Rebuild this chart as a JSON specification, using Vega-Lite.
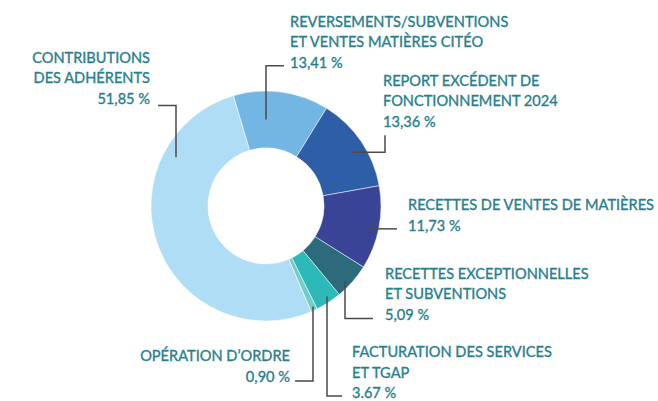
{
  "$schema": "https://vega.github.io/schema/vega-lite/v6.json",
  "width": 658,
  "height": 401,
  "padding": 0,
  "autosize": {"type": "fit", "contains": "padding"},
  "background": "white",
  "config": {"view": {"stroke": null}},
  "datasets": {
    "parts": [
      {"category": "Reversements", "value": 13.41, "order": 1, "label": ["REVERSEMENTS/SUBVENTIONS", "ET VENTES MATIÈRES CITÉO", "13,41 %"], "lx": 24, "ly": 180},
      {"category": "Report", "value": 13.36, "order": 2, "label": ["REPORT EXCÉDENT DE", "FONCTIONNEMENT 2024", "13,36 %"], "lx": 117, "ly": 121},
      {"category": "Ventes", "value": 11.73, "order": 3, "label": ["RECETTES DE VENTES DE MATIÈRES", "11,73 %"], "lx": 142, "ly": -4.5},
      {"category": "Exceptionnelles", "value": 5.09, "order": 4, "label": ["RECETTES EXCEPTIONNELLES", "ET SUBVENTIONS", "5,09 %"], "lx": 119, "ly": -73},
      {"category": "Facturation", "value": 3.67, "order": 5, "label": ["FACTURATION DES SERVICES", "ET TGAP", "3.67 %"], "lx": 86, "ly": -152},
      {"category": "Operation", "value": 0.90, "order": 6, "label": ["OPÉRATION D’ORDRE", "0,90 %"], "lx": 24, "ly": -156},
      {"category": "Contributions", "value": 51.85, "order": 7, "label": ["CONTRIBUTIONS", "DES ADHÉRENTS", "51,85 %"], "lx": -116, "ly": 144}
    ],
    "leaders": [
      {"category": "Contributions", "step": 1, "x": -108, "y": 101},
      {"category": "Contributions", "step": 2, "x": -90, "y": 101},
      {"category": "Contributions", "step": 3, "x": -90, "y": 49},
      {"category": "Reversements", "step": 1, "x": 18, "y": 141},
      {"category": "Reversements", "step": 2, "x": 0, "y": 141},
      {"category": "Reversements", "step": 3, "x": 0, "y": 87},
      {"category": "Report", "step": 1, "x": 119, "y": 71},
      {"category": "Report", "step": 2, "x": 119, "y": 54},
      {"category": "Report", "step": 3, "x": 86, "y": 54},
      {"category": "Ventes", "step": 1, "x": 102, "y": -23},
      {"category": "Ventes", "step": 2, "x": 131, "y": -23},
      {"category": "Exceptionnelles", "step": 1, "x": 79, "y": -76},
      {"category": "Exceptionnelles", "step": 2, "x": 79, "y": -113},
      {"category": "Exceptionnelles", "step": 3, "x": 107, "y": -113},
      {"category": "Facturation", "step": 1, "x": 61, "y": -91},
      {"category": "Facturation", "step": 2, "x": 61, "y": -191},
      {"category": "Facturation", "step": 3, "x": 76, "y": -191},
      {"category": "Operation", "step": 1, "x": 47, "y": -101},
      {"category": "Operation", "step": 2, "x": 47, "y": -176},
      {"category": "Operation", "step": 3, "x": 29, "y": -176}
    ]
  },
  "resolve": {"scale": {"x": "shared", "y": "shared"}},
  "layer": [
    {
      "data": {"name": "parts"},
      "mark": {"type": "arc", "outerRadius": 115, "innerRadius": 58, "stroke": "white", "strokeWidth": 0.5},
      "encoding": {
        "x": {"datum": 0, "type": "quantitative", "scale": {"domain": [-266, 392], "nice": false, "zero": false}, "axis": null},
        "y": {"datum": 0, "type": "quantitative", "scale": {"domain": [-194, 207], "nice": false, "zero": false}, "axis": null},
        "theta": {"field": "value", "type": "quantitative", "stack": true, "scale": {"range": [-0.288, 5.995]}},
        "order": {"field": "order", "type": "quantitative"},
        "color": {
          "field": "category", "type": "nominal", "legend": null,
          "scale": {
            "domain": ["Reversements", "Report", "Ventes", "Exceptionnelles", "Facturation", "Operation", "Contributions"],
            "range": ["#74b6e3", "#2f5ea9", "#3a4496", "#2c6b7c", "#2cb9b8", "#74cdc4", "#afddf5"]
          }
        }
      }
    },
    {
      "data": {"name": "leaders"},
      "mark": {"type": "line", "color": "#4a4a4a", "strokeWidth": 1.5, "interpolate": "linear"},
      "encoding": {
        "x": {"field": "x", "type": "quantitative", "axis": null},
        "y": {"field": "y", "type": "quantitative", "axis": null},
        "detail": {"field": "category"},
        "order": {"field": "step", "type": "quantitative"}
      }
    },
    {
      "data": {"name": "parts"},
      "transform": [{"filter": {"field": "category", "oneOf": ["Contributions", "Operation"]}}],
      "mark": {"type": "text", "align": "right", "baseline": "alphabetic", "font": "Lato", "fontSize": 14.6, "lineHeight": 20.5, "color": "#2a7f8e", "stroke": "#2a7f8e", "strokeWidth": 0.35},
      "encoding": {
        "x": {"field": "lx", "type": "quantitative", "axis": null},
        "y": {"field": "ly", "type": "quantitative", "axis": null},
        "text": {"field": "label"}
      }
    },
    {
      "data": {"name": "parts"},
      "transform": [{"filter": {"not": {"field": "category", "oneOf": ["Contributions", "Operation"]}}}],
      "mark": {"type": "text", "align": "left", "baseline": "alphabetic", "font": "Lato", "fontSize": 14.6, "lineHeight": 20.5, "color": "#2a7f8e", "stroke": "#2a7f8e", "strokeWidth": 0.35},
      "encoding": {
        "x": {"field": "lx", "type": "quantitative", "axis": null},
        "y": {"field": "ly", "type": "quantitative", "axis": null},
        "text": {"field": "label"}
      }
    }
  ]
}
